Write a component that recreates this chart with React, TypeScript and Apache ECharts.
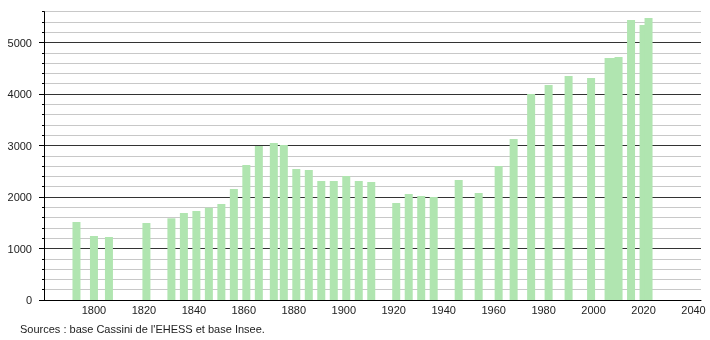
import React, { useEffect, useRef } from "react";
import * as echarts from "echarts";

const years = [
  1793, 1800, 1806, 1821, 1831, 1836, 1841, 1846, 1851, 1856, 1861, 1866, 1872, 1876,
  1881, 1886, 1891, 1896, 1901, 1906, 1911, 1921, 1926, 1931, 1936, 1946, 1954, 1962,
  1968, 1975, 1982, 1990, 1999, 2006, 2007, 2010, 2015, 2020, 2022,
];
const population = [
  1515, 1243, 1223, 1495, 1586, 1689, 1728, 1793, 1864, 2155, 2621, 2990, 3049, 3010,
  2544, 2524, 2311, 2311, 2408, 2311, 2291, 1883, 2058, 2019, 2000, 2330, 2078, 2602,
  3126, 4000, 4175, 4350, 4311, 4699, 4699, 4718, 5437, 5340, 5476,
];
const yMajorTicks = [0, 1000, 2000, 3000, 4000, 5000];
const xTickLabels = [1800, 1820, 1840, 1860, 1880, 1900, 1920, 1940, 1960, 1980, 2000, 2020, 2040];
const sourceText = "Sources : base Cassini de l'EHESS et base Insee.";

export default function App() {
  const ref = useRef<HTMLDivElement>(null);
  useEffect(() => {
    if (!ref.current) return;
    const chart = echarts.init(ref.current, undefined, { renderer: "svg" });
    const font = "'Liberation Sans', Arial, sans-serif";
    const plain = (v: number) => String(v);
    chart.setOption({
      animation: false,
      grid: { left: 44, right: 9, top: 11.6, bottom: 40, containLabel: false },
      xAxis: {
        type: "value",
        min: 1780,
        max: 2043,
        interval: 20,
        axisLine: { show: true, lineStyle: { color: "#000", width: 1 } },
        axisTick: { show: false },
        splitLine: { show: false },
        axisLabel: {
          fontFamily: font,
          fontSize: 11,
          color: "#222",
          margin: 4,
          customValues: xTickLabels,
          formatter: plain,
        },
      },
      yAxis: [
        {
          type: "value",
          min: 0,
          max: 5600,
          interval: 200,
          axisLine: { show: true, lineStyle: { color: "#000", width: 1 } },
          axisTick: { show: true, length: 2, lineStyle: { color: "#000" } },
          splitLine: {
            show: true,
            lineStyle: {
              color: ["#333", "#c8c8c8", "#c8c8c8", "#c8c8c8", "#c8c8c8"],
              width: 1,
            },
          },
          axisLabel: {
            fontFamily: font,
            fontSize: 11,
            color: "#222",
            margin: 12,
            customValues: yMajorTicks,
            formatter: plain,
          },
        },
        {
          type: "value",
          position: "left",
          min: 0,
          max: 5600,
          interval: 200,
          axisLine: { show: false },
          axisTick: { show: true, length: 5, customValues: yMajorTicks, lineStyle: { color: "#000" } },
          splitLine: { show: false },
          axisLabel: { show: false },
        },
      ],
      series: [
        {
          type: "bar",
          data: years.map((y, i) => [y, population[i]]),
          barWidth: 8,
          barGap: "-100%",
          itemStyle: { color: "#b0e5b0" },
          z: 3,
        },
      ],
      graphic: [
        {
          type: "text",
          left: 20,
          top: 323,
          style: { text: sourceText, fontFamily: font, fontSize: 11, fill: "#222" },
        },
      ],
    });
    return () => chart.dispose();
  }, []);
  return (
    <div
      ref={ref}
      style={{ position: "fixed", left: 0, top: 0, width: 710, height: 340 }}
    />
  );
}
